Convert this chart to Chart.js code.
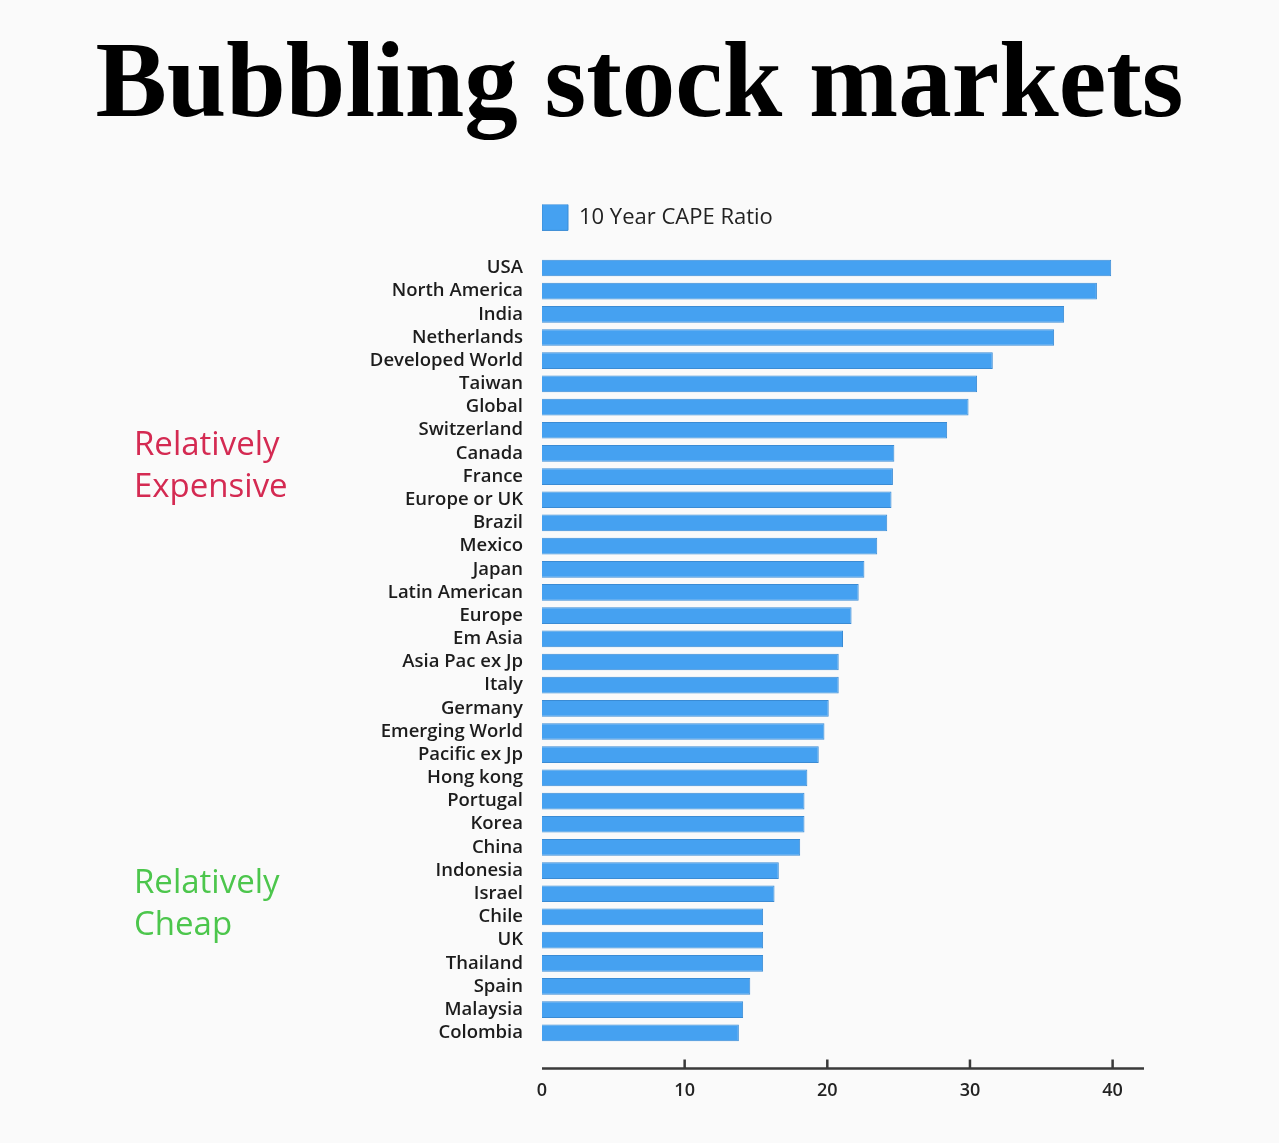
<!DOCTYPE html>
<html>
<head>
<meta charset="utf-8">
<script src="https://cdn.jsdelivr.net/npm/chart.js@4/dist/chart.umd.min.js"></script>
<style>
  html, body { margin: 0; padding: 0; background: #fafafa; }
  #wrap { position: relative; width: 1279px; height: 1143px; }
  .note { position: absolute; left: 134px; font-family: 'Open Sans', sans-serif; font-weight: 500; font-size: 33px; line-height: 42px; }
  #expensive { top: 422px; color: #d42a52; }
  #cheap { top: 860px; color: #4cc64c; }
</style>
</head>
<body>
<div id="wrap">
  <canvas id="bar-chart" width="1279" height="1143"></canvas>
  <div class="note" id="expensive">Relatively<br>Expensive</div>
  <div class="note" id="cheap">Relatively<br>Cheap</div>
</div>
<script>
// Mercados y su ratio CAPE a 10 años
const markets = ['USA', 'North America', 'India', 'Netherlands', 'Developed World', 'Taiwan', 'Global',
  'Switzerland', 'Canada', 'France', 'Europe or UK', 'Brazil', 'Mexico', 'Japan', 'Latin American',
  'Europe', 'Em Asia', 'Asia Pac ex Jp', 'Italy', 'Germany', 'Emerging World', 'Pacific ex Jp',
  'Hong kong', 'Portugal', 'Korea', 'China', 'Indonesia', 'Israel', 'Chile', 'UK', 'Thailand',
  'Spain', 'Malaysia', 'Colombia'];
const capeRatio = [39.9, 38.9, 36.6, 35.9, 31.6, 30.5, 29.9, 28.4, 24.7, 24.6, 24.5, 24.2, 23.5,
  22.6, 22.2, 21.7, 21.1, 20.8, 20.8, 20.1, 19.8, 19.4, 18.6, 18.4, 18.4, 18.1, 16.6, 16.3,
  15.5, 15.5, 15.5, 14.6, 14.1, 13.8];
const xTicks = [0, 10, 20, 30, 40];

// Eje X dibujado un poco por debajo de las barras, con marcas hacia arriba
const axisLine = {
  id: 'axisLine',
  afterDraw(chart) {
    const { ctx, chartArea } = chart;
    const x = chart.scales.x;
    const y = chartArea.bottom + 24;
    ctx.save();
    ctx.strokeStyle = '#3a3a3a';
    ctx.lineWidth = 2.5;
    ctx.beginPath();
    ctx.moveTo(chartArea.left, y);
    ctx.lineTo(chartArea.right, y);
    xTicks.forEach(v => {
      if (v === 0) return;
      const px = x.getPixelForValue(v);
      ctx.moveTo(px, y);
      ctx.lineTo(px, y - 9);
    });
    ctx.stroke();
    ctx.restore();
  }
};

// Espacio extra bajo la leyenda
const legendGap = {
  id: 'legendGap',
  beforeInit(chart) {
    const fit = chart.legend.fit;
    chart.legend.fit = function () {
      fit.bind(chart.legend)();
      this.height += 16;
    };
  }
};

const ctx = document.getElementById('bar-chart').getContext('2d');
new Chart(ctx, {
  type: 'bar',
  data: {
    labels: markets,
    datasets: [{
      label: '10 Year CAPE Ratio',
      data: capeRatio,
      backgroundColor: '#45a1f1',
      borderColor: '#3a8bd4',
      borderWidth: 1,
      barPercentage: 0.72,
      categoryPercentage: 1
    }]
  },
  options: {
    indexAxis: 'y',
    responsive: false,
    animation: false,
    layout: { padding: { left: 0, right: 0, top: 0, bottom: 5 } },
    plugins: {
      title: {
        display: true,
        text: 'Bubbling stock markets',
        color: '#000',
        font: { family: "'Liberation Serif', serif", size: 107, weight: 'bold' },
        padding: { top: 24, bottom: 52 }
      },
      legend: {
        display: true,
        align: 'start',
        fullSize: false,
        labels: {
          boxWidth: 26,
          boxHeight: 26,
          padding: 0,
          color: '#222',
          font: { family: "'Open Sans', sans-serif", size: 22, weight: '500' }
        }
      },
      tooltip: { enabled: false }
    },
    scales: {
      x: {
        min: 0,
        max: 42.2,
        afterBuildTicks(scale) {
          scale.ticks = xTicks.map(v => ({ value: v }));
        },
        grid: { display: false, drawTicks: false },
        border: { display: false },
        ticks: {
          padding: 36,
          color: '#222',
          font: { family: "'Open Sans', sans-serif", size: 18, weight: '600' }
        }
      },
      y: {
        afterFit(scale) { scale.width = 542; },
        grid: { display: false, drawTicks: false },
        border: { display: false },
        ticks: {
          padding: 19,
          autoSkip: false,
          color: '#1c1c1c',
          font: { family: "'Open Sans', sans-serif", size: 18.5, weight: '600' }
        }
      },
      // columna vacía a la derecha para que el título quede centrado en todo el lienzo
      yRight: {
        type: 'category',
        position: 'right',
        afterFit(scale) { scale.width = 135; },
        grid: { display: false, drawTicks: false },
        border: { display: false },
        ticks: { display: false }
      }
    }
  },
  plugins: [axisLine, legendGap]
});
</script>
</body>
</html>
